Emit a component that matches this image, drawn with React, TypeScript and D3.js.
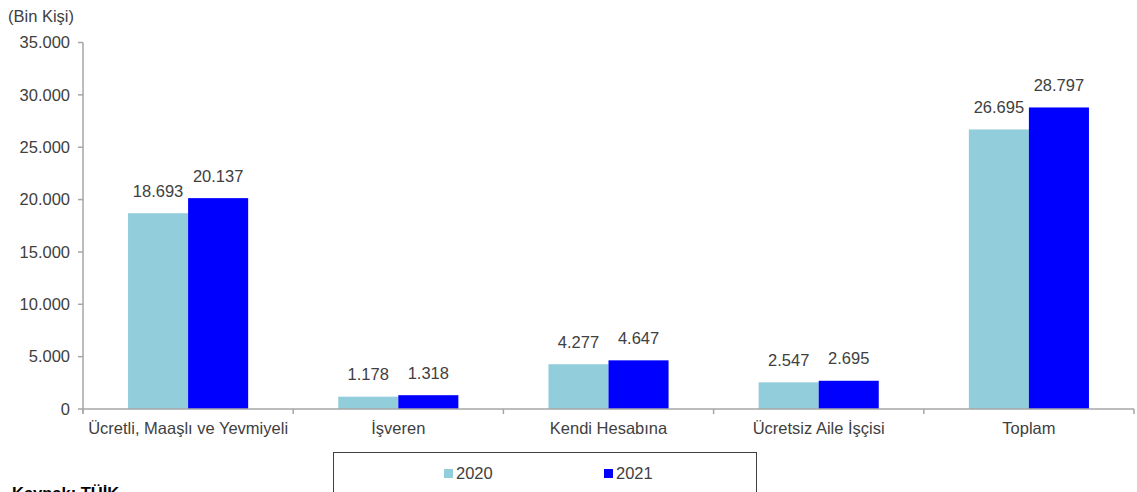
import React from "react";
import * as d3 from "d3";

const categories = [
  "Ücretli, Maaşlı ve Yevmiyeli",
  "İşveren",
  "Kendi Hesabına",
  "Ücretsiz Aile İşçisi",
  "Toplam",
];
const seriesNames = ["2020", "2021"];
const values2020 = [18693, 1178, 4277, 2547, 26695];
const values2021 = [20137, 1318, 4647, 2695, 28797];
const yTicks = [0, 5000, 10000, 15000, 20000, 25000, 30000, 35000];

const colors = ["#92CDDC", "#0000FF"];
const textColor = "#404040";
const axisColor = "#A6A6A6";
const FONT = "'Liberation Sans', Arial, sans-serif";
const FS = 16.5;

const fmt = (v: number) => {
  const s = String(Math.round(v));
  return s.replace(/\B(?=(\d{3})+(?!\d))/g, ".");
};

export default function App() {
  const W = 1137;
  const H = 492;
  const left = 83;
  const right = 1134;
  const top = 42.5;
  const bottom = 409;

  const x = d3.scaleBand<string>().domain(categories).range([left, right]).padding(0);
  const xs = d3
    .scaleBand<string>()
    .domain(seriesNames)
    .range([0, x.bandwidth()])
    .paddingInner(0)
    .paddingOuter(0.75);
  const y = d3.scaleLinear().domain([0, 35000]).range([bottom, top]);

  const series = [values2020, values2021];
  const boundaries = categories.map((c) => x(c) as number).concat([right]);

  return (
    <svg
      width={W}
      height={H}
      style={{ position: "absolute", left: 0, top: 0, background: "#fff" }}
      fontFamily={FONT}
    >
      <rect x={0} y={0} width={W} height={H} fill="#fff" />
      <text x={8} y={22} fontSize={FS} fill={textColor}>
        (Bin Kişi)
      </text>

      {/* Y axis */}
      <line x1={left} x2={left} y1={top} y2={bottom + 4} stroke={axisColor} strokeWidth={1.5} />
      {yTicks.map((t) => (
        <g key={t}>
          <line x1={left - 5} x2={left} y1={y(t)} y2={y(t)} stroke={axisColor} strokeWidth={1.5} />
          <text
            x={70}
            y={y(t)}
            dy="0.35em"
            textAnchor="end"
            fontSize={FS}
            fill={textColor}
          >
            {fmt(t)}
          </text>
        </g>
      ))}

      {/* Bars */}
      {series.map((vals, si) =>
        vals.map((v, i) => {
          const bx = (x(categories[i]) as number) + (xs(seriesNames[si]) as number);
          return (
            <rect
              key={`b-${si}-${i}`}
              x={bx}
              y={y(v)}
              width={xs.bandwidth()}
              height={y(0) - y(v)}
              fill={colors[si]}
            />
          );
        })
      )}

      {/* X axis */}
      <line x1={left} x2={right} y1={bottom} y2={bottom} stroke={axisColor} strokeWidth={1.5} />
      {boundaries.map((bx, i) => (
        <line key={i} x1={bx} x2={bx} y1={bottom} y2={bottom + 5} stroke={axisColor} strokeWidth={1.5} />
      ))}
      {categories.map((c) => (
        <text
          key={c}
          x={(x(c) as number) + x.bandwidth() / 2}
          y={434}
          textAnchor="middle"
          fontSize={FS}
          fill={textColor}
        >
          {c}
        </text>
      ))}

      {/* Value labels */}
      {series.map((vals, si) =>
        vals.map((v, i) => {
          const cx =
            (x(categories[i]) as number) + (xs(seriesNames[si]) as number) + xs.bandwidth() / 2;
          return (
            <text
              key={`l-${si}-${i}`}
              x={cx}
              y={y(v) - 16.5}
              textAnchor="middle"
              fontSize={FS}
              fill={textColor}
            >
              {fmt(v)}
            </text>
          );
        })
      )}

      {/* Legend */}
      <rect x={333.5} y={452.5} width={423} height={60} fill="#fff" stroke="#404040" strokeWidth={1} />
      {seriesNames.map((s, si) => {
        const lx = si === 0 ? 444 : 604;
        return (
          <g key={s}>
            <rect x={lx} y={469} width={9} height={9} fill={colors[si]} />
            <text x={lx + 12} y={479} fontSize={FS} fill={textColor}>
              {s}
            </text>
          </g>
        );
      })}

      <text x={12} y={499} fontSize={FS} fontWeight="bold" fill="#000">
        Kaynak: TÜİK
      </text>
    </svg>
  );
}
